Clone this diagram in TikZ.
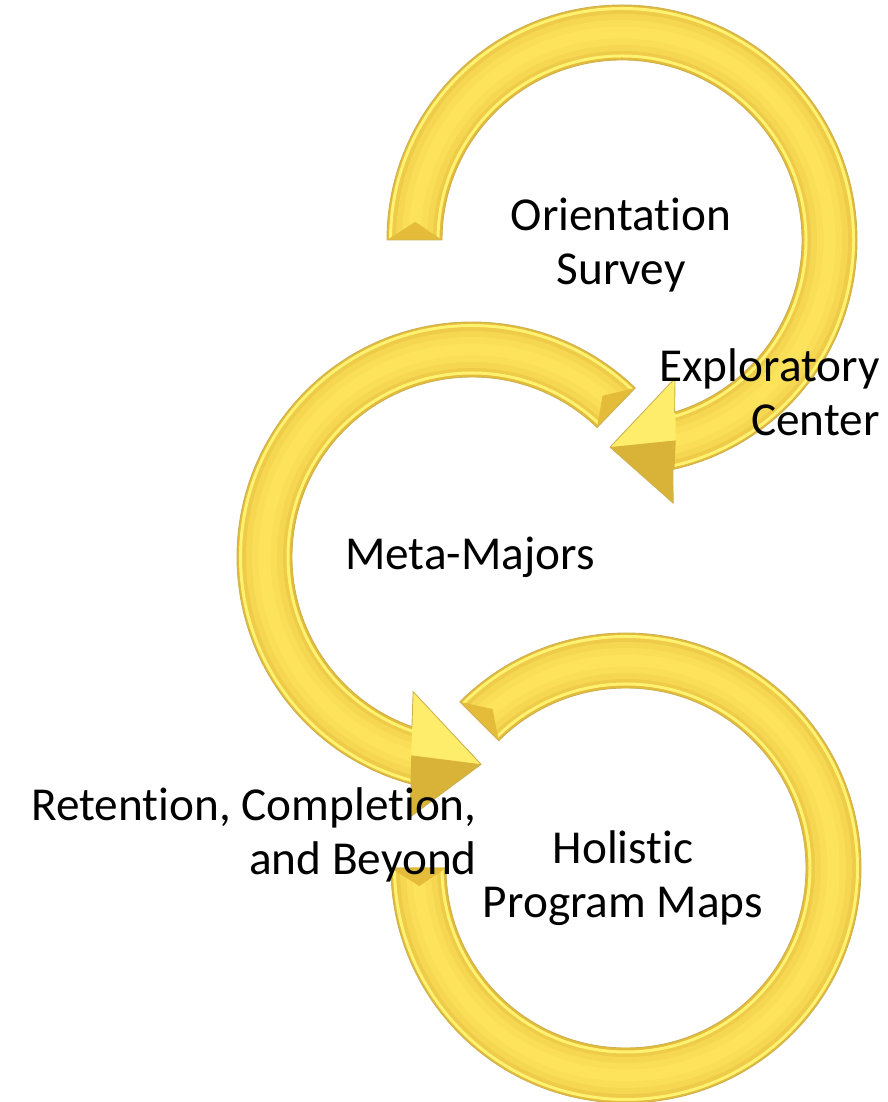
\documentclass[tikz,border=0pt]{standalone}
\usepackage{fontspec}
\setmainfont{Carlito}[Ligatures={NoCommon}]

\definecolor{bandbase}{RGB}{248,212,74}
\definecolor{banddark}{RGB}{228,188,58}
\definecolor{bandlight}{RGB}{253,226,92}
\definecolor{bandrim}{RGB}{255,242,112}
\definecolor{bandedge}{RGB}{205,178,84}

% outlines of the three arrows, each round its own centre
\newcommand{\surveyarrow}{(180:235) arc[start angle=180,end angle=-77.5,radius=235]
  -- (-79:268) -- (-93.3:207.5) -- (-69:148) -- (-73:180)
  arc[start angle=-73,end angle=180,radius=180] -- cycle}
\newcommand{\majorsarrow}{(46:235) arc[start angle=46,end angle=255,radius=235]
  -- (256.5:268) -- (272.5:207.5) -- (246.4:147) -- (250.5:180)
  arc[start angle=250.5,end angle=46,radius=180] -- cycle}
\newcommand{\mapsarrow}{(135:235) arc[start angle=135,end angle=-180,radius=235]
  -- (-180:180) arc[start angle=-180,end angle=135,radius=180] -- cycle}

\tikzset{
  lbl/.style={font=\fontsize{26.9}{30.6}\selectfont, align=center, inner sep=0pt, text=black},
  rim/.style={bandedge, line width=0.5pt},
  litface/.style={fill=bandrim!70!bandlight},
  darkface/.style={fill=banddark!95!black},
}

\begin{document}
\begin{tikzpicture}[x=0.02cm,y=0.02cm]
\useasboundingbox (0,0) rectangle (887,1102);

% top arrow
\begin{scope}[shift={(622,862)}]
\fill[bandbase] \surveyarrow;
\begin{scope}
\clip \surveyarrow;
\foreach \w/\p in {55/0,47/40,37/70,25/90,12/100}
  \draw[line width=\w*0.02cm, bandlight!\p!banddark] (0,0) circle (207.5);
\draw[line width=3*0.02cm, bandrim] (0,0) circle (231.5);
\draw[line width=3*0.02cm, bandrim] (0,0) circle (184);
\fill[litface] (-93.3:207.5) -- (-69:148) -- (-75:207.5) -- cycle;
\fill[darkface] (-93.3:207.5) -- (-79:268) -- (-75:207.5) -- cycle;
\fill[banddark] (180:235) -- (180:180) -- (175:207.5) -- cycle;
\end{scope}
\draw[rim] \surveyarrow;
\end{scope}

% middle arrow
\begin{scope}[shift={(472,545)}]
\fill[bandbase] \majorsarrow;
\begin{scope}
\clip \majorsarrow;
\foreach \w/\p in {55/0,47/40,37/70,25/90,12/100}
  \draw[line width=\w*0.02cm, bandlight!\p!banddark] (0,0) circle (207.5);
\draw[line width=3*0.02cm, bandrim] (0,0) circle (231.5);
\draw[line width=3*0.02cm, bandrim] (0,0) circle (184);
\fill[litface] (272.5:207.5) -- (246.4:147) -- (253:207.5) -- cycle;
\fill[darkface] (272.5:207.5) -- (256.5:268) -- (253:207.5) -- cycle;
\fill[banddark] (46:235) -- (46:180) -- (51:207.5) -- cycle;
\end{scope}
\draw[rim] \majorsarrow;
\end{scope}

% bottom arrow
\begin{scope}[shift={(626,234)}]
\fill[bandbase] \mapsarrow;
\begin{scope}
\clip \mapsarrow;
\foreach \w/\p in {55/0,47/40,37/70,25/90,12/100}
  \draw[line width=\w*0.02cm, bandlight!\p!banddark] (0,0) circle (207.5);
\draw[line width=3*0.02cm, bandrim] (0,0) circle (231.5);
\draw[line width=3*0.02cm, bandrim] (0,0) circle (184);
\fill[banddark] (135:235) -- (135:180) -- (130:207.5) -- cycle;
\fill[banddark] (-180:235) -- (-180:180) -- (-175:207.5) -- cycle;
\end{scope}
\draw[rim] \mapsarrow;
\end{scope}

\node[lbl] (survey) at (621,857) {Orientation\\Survey};
\node[lbl, align=right, anchor=east] (centre) at (880,710) {Exploratory\\Center};
\node[lbl, anchor=base] (majors) at (470,532) {Meta-Majors};
\node[lbl, align=right, anchor=east] (beyond) at (477,267) {Retention, Completion,\\and Beyond};
\node[lbl] (maps) at (623,224) {Holistic\\Program Maps};
\end{tikzpicture}
\end{document}
